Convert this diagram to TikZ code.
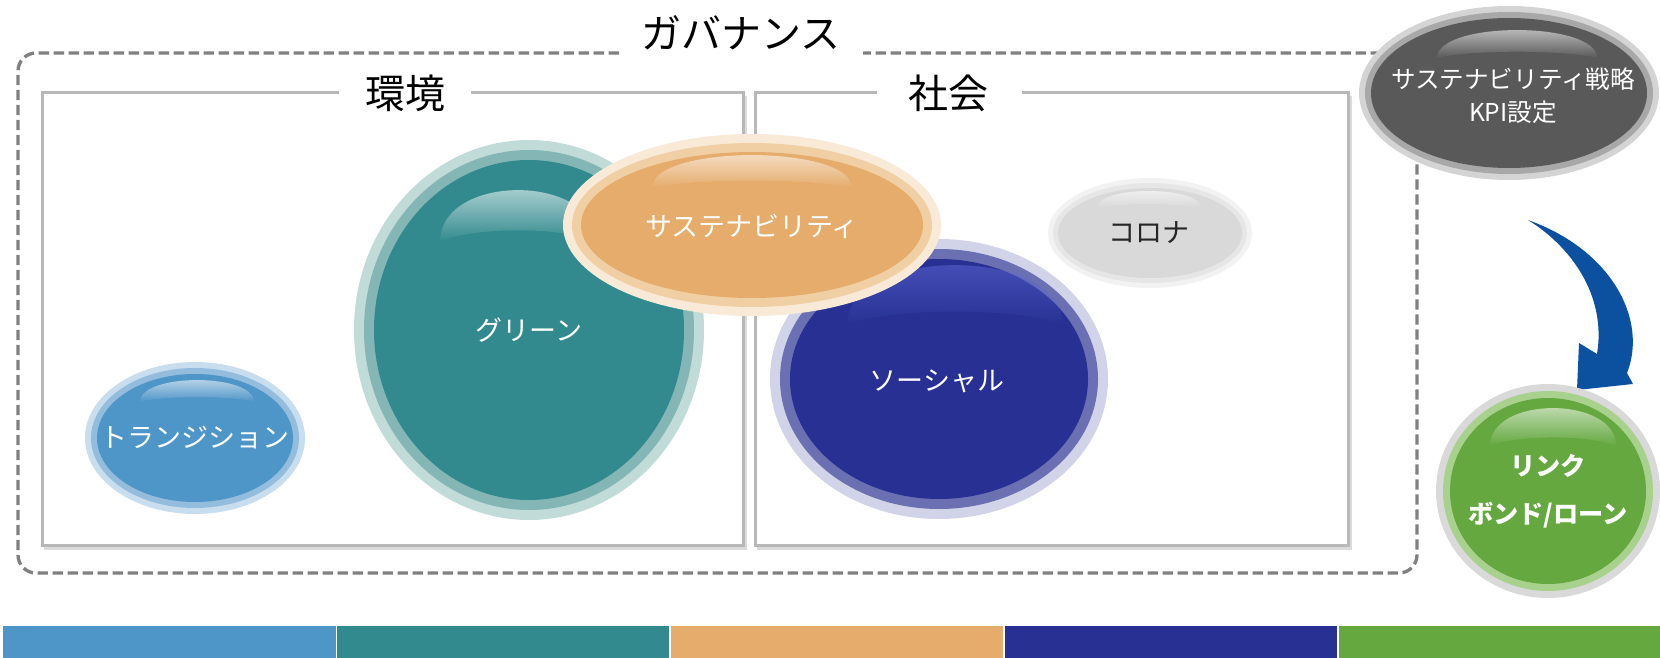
\documentclass[tikz,border=0pt]{standalone}
\usepackage{fontspec}
\setmainfont{Noto Sans CJK JP}
\usetikzlibrary{fadings}
\definecolor{cTr}{HTML}{4E95C8}\definecolor{cTrM}{HTML}{93BCDD}\definecolor{cTrO}{HTML}{C8DDEE}
\definecolor{cTe}{HTML}{328A8E}\definecolor{cTeM}{HTML}{84B6B5}\definecolor{cTeO}{HTML}{C0DBD8}
\definecolor{cSo}{HTML}{283193}\definecolor{cSoM}{HTML}{6A70B2}\definecolor{cSoO}{HTML}{D1D3E8}
\definecolor{cCo}{HTML}{D9D9D9}\definecolor{cCoM}{HTML}{E6E6E6}\definecolor{cCoO}{HTML}{F2F2F2}
\definecolor{cSu}{HTML}{E5AC6B}\definecolor{cSuM}{HTML}{F1CFA4}\definecolor{cSuO}{HTML}{F8EAD7}
\definecolor{cKp}{HTML}{595959}\definecolor{cKpM}{HTML}{A8A8A8}\definecolor{cKpO}{HTML}{D4D4D4}
\definecolor{cLi}{HTML}{64A83F}\definecolor{cLiM}{HTML}{A9D18E}\definecolor{cLiO}{HTML}{D9D9D9}
\definecolor{cSoGl}{HTML}{5A64D2}
\definecolor{cArrow}{HTML}{0B51A0}
\definecolor{cDash}{HTML}{808080}
\definecolor{cBox}{HTML}{B8B8B8}
\definecolor{cBoxSh}{HTML}{DADADA}
\tikzfading[name=glossfade, top color=transparent!25, bottom color=transparent!100]
\newcommand\mybubble[8]{%
  \fill[#5] (#1,#2) ellipse [x radius=#3, y radius=#4];
  \fill[#6] (#1,#2) ellipse [x radius={#3-#8}, y radius={#4-#8}];
  \fill[#7] (#1,#2) ellipse [x radius={#3-2*#8}, y radius={#4-2*#8}];
}
\newcommand\mygloss[5]{%
  \fill[#5, path fading=glossfade] ({#1-#3},#2) .. controls ({#1-#3},{#2-1.33*#4}) and ({#1+#3},{#2-1.33*#4}) .. ({#1+#3},#2)
     .. controls ({#1+0.6*#3},{#2-0.3*#4}) and ({#1-0.6*#3},{#2-0.3*#4}) .. cycle;
}
\begin{document}
\begin{tikzpicture}[x=0.5pt,y=-0.5pt,
  boxline/.style={draw=cBox, line width=1.5pt},
  boxshadow/.style={draw=cBoxSh, line width=1.5pt},
  govline/.style={draw=cDash, line width=1.65pt, dash pattern=on 5.2pt off 2.3pt, rounded corners=9pt},
  bigtitle/.style={font=\fontsize{20}{24}\selectfont, text=black, inner sep=0pt},
  lbl/.style={font=\fontsize{13.5}{16}\selectfont, text=white, inner sep=0pt},
  lblsmall/.style={font=\fontsize{12.3}{16.5}\selectfont, text=white, inner sep=0pt, align=center},
  lblbold/.style={font=\fontsize{12.6}{24}\selectfont\bfseries, text=white, inner sep=0pt, align=center}
]
\useasboundingbox (0,0) rectangle (1660,658);

% governance dashed frame
\draw[govline] (619,53) -- (18,53) -- (18,573) -- (1417,573) -- (1417,53) -- (863,53);
\node[bigtitle] (gov) at (741,33) {ガバナンス};

% environment box
\draw[boxshadow] (44,548) -- (745,548) -- (745,96);
\draw[boxline] (339,93) -- (42,93) -- (42,545) -- (743,545) -- (743,93) -- (471,93);
\node[bigtitle] (env) at (405,93) {環境};

% society box
\draw[boxshadow] (757,548) -- (1350,548) -- (1350,96);
\draw[boxline] (877,93) -- (755,93) -- (755,545) -- (1348,545) -- (1348,93) -- (1022,93);
\node[bigtitle] (soc) at (948,93) {社会};

% transition
\mybubble{195}{438}{110}{76}{cTrO}{cTrM}{cTr}{6}
\mygloss{197}{402}{57}{22}{white}
\node[lbl] (tr) at (195,438) {トランジション};

% green (teal)
\mybubble{529}{330}{175}{190}{cTeO}{cTeM}{cTe}{10}
\mygloss{518}{242}{78}{52}{white}
\node[lbl] (gr) at (529,330) {グリーン};

% social
\mybubble{939}{379}{169}{140}{cSoO}{cSoM}{cSo}{10}
\mygloss{955}{325}{108}{60}{cSoGl}
\node[lbl] (so) at (937,381) {ソーシャル};

% corona
\mybubble{1150}{233}{102}{55}{cCoO}{cCoM}{cCo}{5}
\mygloss{1149}{208}{52}{17}{white}
\node[lbl, text=black!85] (co) at (1149,233) {コロナ};

% sustainability
\mybubble{752}{225}{189}{91}{cSuO}{cSuM}{cSu}{9}
\mygloss{752}{188}{100}{33}{white}
\node[lbl] (su) at (752,226) {サステナビリティ};

% KPI
\mybubble{1509}{93}{150}{87}{cKpO}{cKpM}{cKp}{6}
\mygloss{1517}{58}{80}{28}{white}
\node[lblsmall] (kpi) at (1513,96) {サステナビリティ戦略\\KPI設定};

% curved arrow
\coordinate (arrTail) at (1528,220);
\coordinate (arrTip) at (1577,390);
\fill[cArrow] (arrTail) .. controls (1612,250) and (1648,320) .. (1627,373)
  -- (1633,384) -- (arrTip) -- (1579,343) -- (1597,354)
  .. controls (1606,300) and (1576,250) .. (arrTail) -- cycle;

% link
\mybubble{1548}{491}{112}{107}{cLiO}{cLiM}{cLi}{7}
\mygloss{1553}{446}{63}{38}{white}
\node[lblbold] (li) at (1548,491) {リンク\\ボンド/ローン};

% bottom bar
\fill[cTr] (3,626) rectangle (336,658);
\fill[cTe] (337,626) rectangle (669,658);
\fill[cSu] (671,626) rectangle (1003,658);
\fill[cSo] (1005,626) rectangle (1337,658);
\fill[cLi] (1339,626) rectangle (1660,658);
\end{tikzpicture}
\end{document}
